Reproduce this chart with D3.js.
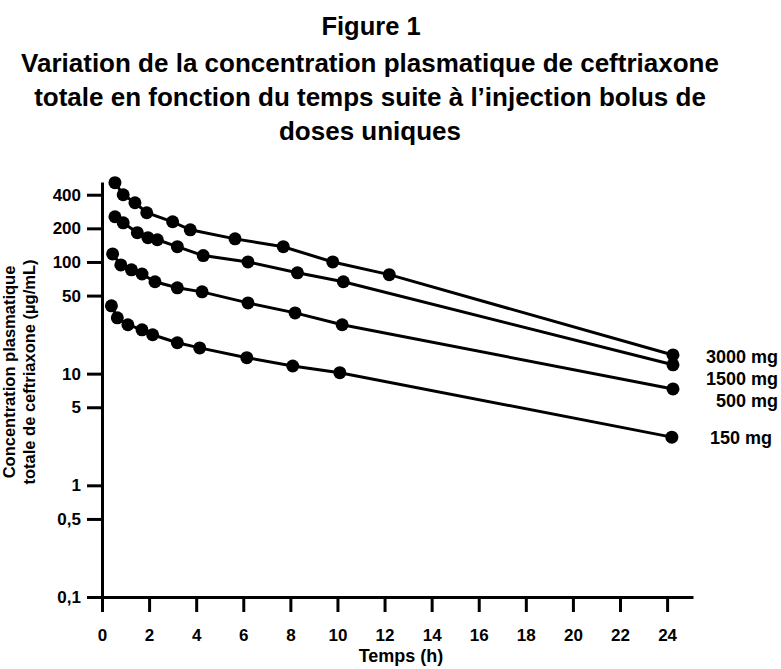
<!DOCTYPE html>
<html lang="fr">
<head>
<meta charset="UTF-8">
<title>Figure 1</title>
<script src="https://d3js.org/d3.v7.min.js"></script>
<style>
  body { margin: 0; background: #fff; }
  svg { display: block; font-family: "Liberation Sans", Arial, sans-serif; font-weight: bold; }
  .axis path, .axis line { stroke: #000; stroke-width: 3px; }
  .axis text { font-size: 17px; font-weight: bold; fill: #000; }
  .series { fill: none; stroke: #000; stroke-width: 3px; }
</style>
</head>
<body>
<div id="chart"></div>
<script>
// time (h) and concentration (µg/mL)
const times3000 = [0.55, 0.9, 1.4, 1.9, 3.0, 3.75, 5.65, 7.7, 9.8, 12.2, 24.25];
const conc3000  = [513, 400, 339, 276, 229, 194, 161, 137, 100, 77, 14.7];
const times1500 = [0.55, 0.9, 1.5, 1.95, 2.35, 3.2, 4.3, 6.2, 8.3, 10.25, 24.25];
const conc1500  = [254, 224, 183, 165, 158, 137, 114, 100, 80, 66.5, 12.0];
const times500  = [0.45, 0.8, 1.25, 1.7, 2.25, 3.2, 4.25, 6.2, 8.2, 10.2, 24.25];
const conc500   = [118, 94, 85, 78, 66.5, 58.7, 54, 43, 35, 27.4, 7.3];
const times150  = [0.4, 0.65, 1.1, 1.7, 2.15, 3.2, 4.15, 6.15, 8.1, 10.1, 24.2];
const conc150   = [40.5, 31.6, 27.4, 24.7, 22.3, 18.9, 17.0, 13.9, 11.7, 10.2, 2.7];

const doseLabels = ["3000 mg", "1500 mg", "500 mg", "150 mg"];
const yTicks = [400, 200, 100, 50, 10, 5, 1, 0.5, 0.1];
const yTickLabels = ["400", "200", "100", "50", "10", "5", "1", "0,5", "0,1"];
const xTicks = [0, 2, 4, 6, 8, 10, 12, 14, 16, 18, 20, 22, 24];

const W = 781, H = 669;
const svg = d3.select("#chart").append("svg").attr("width", W).attr("height", H);

const x = d3.scaleLinear().domain([0, 25.1]).range([102, 693]);
const y = d3.scaleLog().domain([0.1, 520]).range([597, 182]);

// titles
svg.append("text").attr("x", 371).attr("y", 35).attr("text-anchor", "middle")
  .style("font-size", "25.5px").text("Figure 1");
const titleLines = [
  "Variation de la concentration plasmatique de ceftriaxone",
  "totale en fonction du temps suite à l’injection bolus de",
  "doses uniques"
];
svg.selectAll(".title").data(titleLines).enter().append("text")
  .attr("class", "title")
  .attr("x", 370).attr("y", (d, i) => 72 + i * 34)
  .attr("text-anchor", "middle")
  .style("font-size", "26px")
  .text(d => d);

// axes
svg.append("g").attr("class", "axis")
  .attr("transform", "translate(0,597)")
  .call(d3.axisBottom(x).tickValues(xTicks).tickSize(15).tickSizeOuter(0).tickPadding(17).tickFormat(d3.format("d")));

svg.append("g").attr("class", "axis")
  .attr("transform", "translate(102,0)")
  .call(d3.axisLeft(y).tickValues(yTicks).tickSize(15).tickSizeOuter(0).tickPadding(6)
    .tickFormat((d, i) => yTickLabels[i]));

// axis titles
svg.append("text").attr("x", 401).attr("y", 662).attr("text-anchor", "middle")
  .style("font-size", "18px").text("Temps (h)");
const yTitle = svg.append("text").attr("transform", "translate(0,372) rotate(-90)")
  .attr("text-anchor", "middle").style("font-size", "16.5px");
yTitle.append("tspan").attr("x", 0).attr("y", 15).text("Concentration plasmatique");
yTitle.append("tspan").attr("x", 0).attr("y", 35).text("totale de ceftriaxone (µg/mL)");

// series
const series = [
  { t: times3000, c: conc3000 },
  { t: times1500, c: conc1500 },
  { t: times500, c: conc500 },
  { t: times150, c: conc150 }
].map(s => s.t.map((t, i) => ({ t, c: s.c[i] })));

const line = d3.line().x(d => x(d.t)).y(d => y(d.c));

series.forEach(pts => {
  svg.append("path").datum(pts).attr("class", "series").attr("d", line);
  svg.selectAll(null).data(pts).enter().append("circle")
    .attr("cx", d => x(d.t)).attr("cy", d => y(d.c)).attr("r", 6.5).attr("fill", "#000");
});

// dose labels
const labelY = [357, 379, 401, 438];
const labelX = [778, 778, 778, 772];
svg.selectAll(".dose").data(doseLabels).enter().append("text")
  .attr("class", "dose")
  .attr("x", (d, i) => labelX[i]).attr("y", (d, i) => labelY[i])
  .attr("dy", "0.35em").attr("text-anchor", "end")
  .style("font-size", "18px")
  .text(d => d);
</script>
</body>
</html>
